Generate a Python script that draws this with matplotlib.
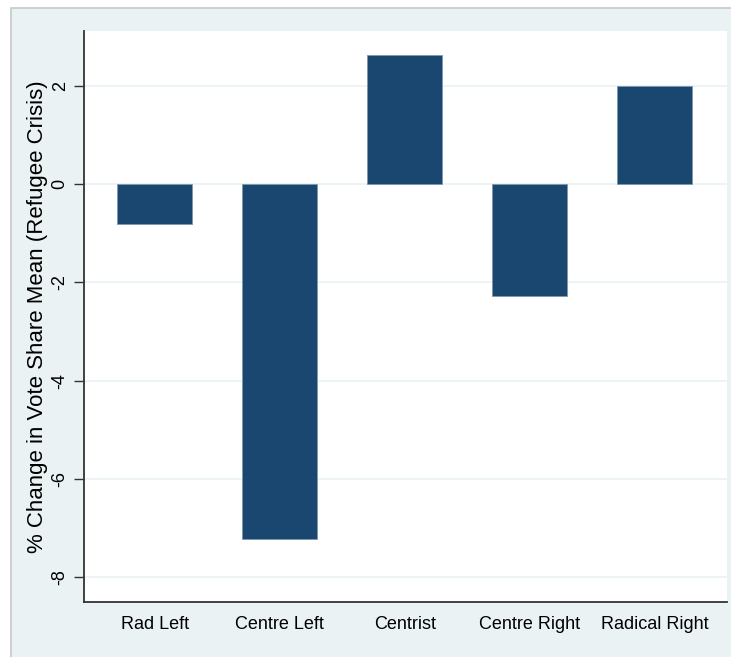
""" Vote share change by party family, Stata-style bar chart """

import matplotlib.pyplot as plt
from matplotlib.patches import Rectangle

plt.rcParams['font.family'] = ['Liberation Sans', 'DejaVu Sans']

families = ["Rad Left", "Centre Left", "Centrist", "Centre Right", "Radical Right"]
change = [-0.82, -7.22, 2.62, -2.28, 2.0]
yticks = [-8, -6, -4, -2, 0, 2]

W, H = 731, 657
fig = plt.figure(figsize=(W/100, H/100), dpi=100, facecolor='white')

# light stata background with a grey frame on top/left (right/bottom run off the picture)
bg = Rectangle((11/W, -0.1), 1.1, (H-8)/H + 0.1, transform=fig.transFigure,
	facecolor='#eaf2f3', edgecolor='#c4c8c9', linewidth=1.2, zorder=-10)
fig.patches.append(bg)

ax = fig.add_axes([84/W, (H-602)/H, (727-84)/W, (602-31)/H])
ax.set_facecolor('white')

x = list(range(len(families)))
ax.bar(x, change, width=0.6, color='#1a476f', edgecolor='#7f98ad', linewidth=0.6, zorder=3)

ax.set_xlim(-0.568, 4.58)
ax.set_ylim(-8.5, 3.11)

ax.set_yticks(yticks)
ax.set_yticklabels([str(v) for v in yticks], rotation=90, va='center', fontsize=13)
ax.set_xticks(x)
ax.set_xticklabels(families, fontsize=13)
ax.tick_params(axis='x', length=0, pad=10)
ax.tick_params(axis='y', length=7, width=1, color='#333333', pad=4)

ax.grid(axis='y', color='#eaf2f3', linewidth=1.2, zorder=0)
ax.set_axisbelow(True)

for s in ['top', 'right']:
	ax.spines[s].set_visible(False)
for s in ['left', 'bottom']:
	ax.spines[s].set_color('#333333')
	ax.spines[s].set_linewidth(1.3)

ax.set_ylabel("% Change in Vote Share Mean (Refugee Crisis)", fontsize=16, labelpad=3)

fig.savefig('out.png', dpi=100, facecolor=fig.get_facecolor())
